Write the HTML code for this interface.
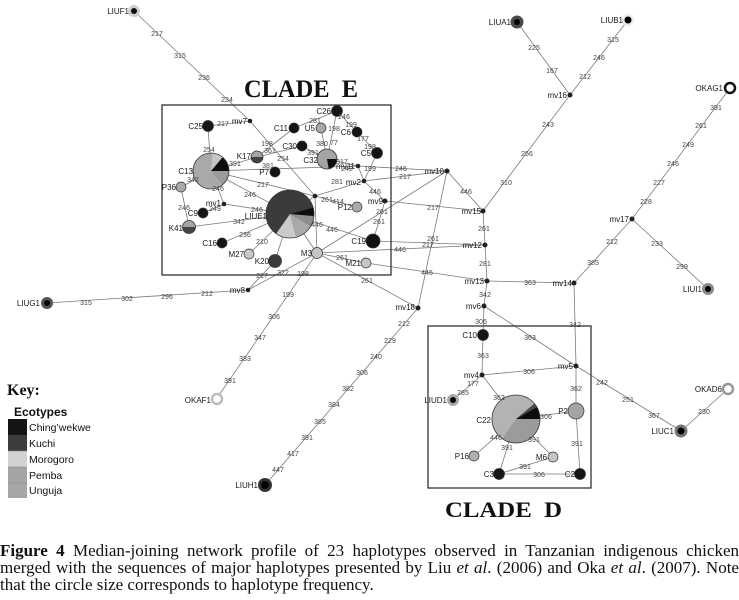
<!DOCTYPE html>
<html><head><meta charset="utf-8"><style>
html,body{margin:0;padding:0;background:#fff;}
#wrap{position:relative;width:739px;height:600px;overflow:hidden;background:#fff;}
svg{position:absolute;left:0;top:0;}
.cap{position:absolute;left:0;top:542px;width:739px;font-family:"Liberation Serif",serif;font-size:17px;line-height:17px;color:#111;}
.cap div{white-space:nowrap;}
.j{text-align:justify;text-align-last:justify;white-space:normal!important;}
</style></head><body><div id="wrap">
<svg width="739" height="600" viewBox="0 0 739 600" xmlns="http://www.w3.org/2000/svg">
<g stroke="#7a7a7a" stroke-width="0.8" fill="none">
<line x1="134" y1="11" x2="250" y2="121"/>
<line x1="250" y1="121" x2="208" y2="126"/>
<line x1="250" y1="121" x2="315" y2="196"/>
<line x1="208" y1="126" x2="211" y2="171"/>
<line x1="211" y1="171" x2="358" y2="166"/>
<line x1="211" y1="171" x2="257" y2="157"/>
<line x1="257" y1="157" x2="294" y2="128"/>
<line x1="257" y1="157" x2="302" y2="146"/>
<line x1="302" y1="146" x2="327" y2="159"/>
<line x1="294" y1="128" x2="337" y2="111"/>
<line x1="321" y1="128" x2="327" y2="159"/>
<line x1="337" y1="111" x2="327" y2="159"/>
<line x1="337" y1="111" x2="357" y2="132"/>
<line x1="357" y1="132" x2="377" y2="153"/>
<line x1="377" y1="153" x2="364" y2="181"/>
<line x1="327" y1="159" x2="358" y2="166"/>
<line x1="358" y1="166" x2="364" y2="181"/>
<line x1="358" y1="166" x2="447" y2="171"/>
<line x1="364" y1="181" x2="447" y2="171"/>
<line x1="364" y1="181" x2="385" y2="201"/>
<line x1="364" y1="181" x2="315" y2="196"/>
<line x1="315" y1="196" x2="357" y2="207"/>
<line x1="315" y1="196" x2="317" y2="253"/>
<line x1="315" y1="196" x2="290" y2="214"/>
<line x1="385" y1="201" x2="373" y2="241"/>
<line x1="385" y1="201" x2="483" y2="211"/>
<line x1="290" y1="214" x2="373" y2="241"/>
<line x1="211" y1="171" x2="315" y2="196"/>
<line x1="211" y1="171" x2="290" y2="214"/>
<line x1="211" y1="171" x2="224" y2="204"/>
<line x1="224" y1="204" x2="290" y2="214"/>
<line x1="203" y1="213" x2="224" y2="204"/>
<line x1="211" y1="171" x2="181" y2="187"/>
<line x1="181" y1="187" x2="189" y2="227"/>
<line x1="189" y1="227" x2="290" y2="214"/>
<line x1="222" y1="243" x2="290" y2="214"/>
<line x1="249" y1="254" x2="290" y2="214"/>
<line x1="275" y1="261" x2="290" y2="214"/>
<line x1="290" y1="214" x2="317" y2="253"/>
<line x1="317" y1="253" x2="447" y2="171"/>
<line x1="317" y1="253" x2="485" y2="245"/>
<line x1="317" y1="253" x2="366" y2="263"/>
<line x1="317" y1="253" x2="418" y2="308"/>
<line x1="317" y1="253" x2="217" y2="398"/>
<line x1="248" y1="290" x2="275" y2="261"/>
<line x1="248" y1="290" x2="317" y2="253"/>
<line x1="248" y1="290" x2="47" y2="303"/>
<line x1="373" y1="241" x2="485" y2="245"/>
<line x1="366" y1="263" x2="487" y2="281"/>
<line x1="447" y1="171" x2="418" y2="308"/>
<line x1="447" y1="171" x2="483" y2="211"/>
<line x1="418" y1="308" x2="265" y2="485"/>
<line x1="483" y1="211" x2="570" y2="95"/>
<line x1="570" y1="95" x2="517" y2="22"/>
<line x1="570" y1="95" x2="628" y2="20"/>
<line x1="730" y1="88" x2="632" y2="219"/>
<line x1="632" y1="219" x2="708" y2="289"/>
<line x1="632" y1="219" x2="574" y2="283"/>
<line x1="487" y1="281" x2="574" y2="283"/>
<line x1="483" y1="211" x2="485" y2="245"/>
<line x1="485" y1="245" x2="487" y2="281"/>
<line x1="487" y1="281" x2="484" y2="306"/>
<line x1="484" y1="306" x2="483" y2="335"/>
<line x1="484" y1="306" x2="576" y2="366"/>
<line x1="574" y1="283" x2="576" y2="366"/>
<line x1="576" y1="366" x2="681" y2="431"/>
<line x1="681" y1="431" x2="728" y2="389"/>
<line x1="483" y1="335" x2="482" y2="375"/>
<line x1="482" y1="375" x2="453" y2="400"/>
<line x1="482" y1="375" x2="576" y2="366"/>
<line x1="482" y1="375" x2="516" y2="419"/>
<line x1="576" y1="366" x2="576" y2="411"/>
<line x1="516" y1="419" x2="576" y2="411"/>
<line x1="576" y1="411" x2="580" y2="474"/>
<line x1="516" y1="419" x2="499" y2="474"/>
<line x1="516" y1="419" x2="553" y2="457"/>
<line x1="516" y1="419" x2="474" y2="456"/>
<line x1="499" y1="474" x2="553" y2="457"/>
<line x1="499" y1="474" x2="580" y2="474"/>
</g>
<rect x="162" y="105" width="229" height="170" fill="none" stroke="#333" stroke-width="1.3"/>
<rect x="428" y="326" width="163" height="162" fill="none" stroke="#333" stroke-width="1.3"/>
<text x="244" y="97" font-family="Liberation Serif, serif" font-weight="bold" font-size="25" fill="#111" textLength="114" lengthAdjust="spacingAndGlyphs" xml:space="preserve">CLADE  E</text>
<text x="445" y="517" font-family="Liberation Serif, serif" font-weight="bold" font-size="22" fill="#111" textLength="117" lengthAdjust="spacingAndGlyphs" xml:space="preserve">CLADE  D</text>
<g stroke="none">
<circle cx="290" cy="214" r="24" fill="#3b3b3b"/>
<path d="M290,214 L313.18,207.79 A24,24 0 0,1 313.91,216.09 Z" fill="#0d0d0d"/>
<path d="M290,214 L313.91,216.09 A24,24 0 0,1 310.78,226 Z" fill="#8e8e8e"/>
<path d="M290,214 L310.78,226 A24,24 0 0,1 296.21,237.18 Z" fill="#a9a9a9"/>
<path d="M290,214 L296.21,237.18 A24,24 0 0,1 276.23,233.66 Z" fill="#cacaca"/>
<circle cx="211" cy="171" r="18" fill="#a9a9a9"/>
<path d="M211,171 L212.57,153.07 A18,18 0 0,1 222.57,157.21 Z" fill="#c6c6c6"/>
<path d="M211,171 L222.57,157.21 A18,18 0 0,1 229,171 Z" fill="#0d0d0d"/>
<path d="M211,171 L229,171 A18,18 0 0,1 222.57,184.79 Z" fill="#9a9a9a"/>
<circle cx="327" cy="159" r="10" fill="#a4a4a4"/>
<path d="M327,159 L337,159 A10,10 0 0,1 328.74,168.85 Z" fill="#0d0d0d"/>
<circle cx="516" cy="419" r="24" fill="#b3b3b3"/>
<path d="M516,419 L540,419 A24,24 0 0,1 502.23,438.66 Z" fill="#9b9b9b"/>
<path d="M516,419 L534.38,403.57 A24,24 0 0,1 536.78,407 Z" fill="#4a4a4a"/>
<path d="M516,419 L536.78,407 A24,24 0 0,1 540,419 Z" fill="#0d0d0d"/>
<path d="M251,157 A6,6 0 0,1 263,157 Z" fill="#a5a5a5"/>
<path d="M263,157 A6,6 0 0,1 251,157 Z" fill="#444"/>
<path d="M182.5,227 A6.5,6.5 0 0,1 195.5,227 Z" fill="#a5a5a5"/>
<path d="M195.5,227 A6.5,6.5 0 0,1 182.5,227 Z" fill="#444"/>
</g>
<g fill="none" stroke="#333" stroke-width="0.8">
<circle cx="290" cy="214" r="24"/><circle cx="211" cy="171" r="18"/><circle cx="327" cy="159" r="10"/><circle cx="516" cy="419" r="24"/><circle cx="257" cy="157" r="6"/><circle cx="189" cy="227" r="6.5"/>
</g>
<g stroke="#333" stroke-width="0.7">
<circle cx="208" cy="126" r="5.5" fill="#151515"/>
<circle cx="294" cy="128" r="5" fill="#151515"/>
<circle cx="321" cy="128" r="5" fill="#a8a8a8"/>
<circle cx="337" cy="111" r="5.5" fill="#151515"/>
<circle cx="357" cy="132" r="5" fill="#151515"/>
<circle cx="302" cy="146" r="5" fill="#151515"/>
<circle cx="275" cy="172" r="5" fill="#151515"/>
<circle cx="377" cy="153" r="5.5" fill="#151515"/>
<circle cx="181" cy="187" r="5" fill="#aaa"/>
<circle cx="203" cy="213" r="5" fill="#151515"/>
<circle cx="357" cy="207" r="5" fill="#aaa"/>
<circle cx="373" cy="241" r="7" fill="#111"/>
<circle cx="222" cy="243" r="5" fill="#151515"/>
<circle cx="249" cy="254" r="5" fill="#c8c8c8"/>
<circle cx="275" cy="261" r="6.5" fill="#3a3a3a"/>
<circle cx="317" cy="253" r="5.5" fill="#c5c5c5"/>
<circle cx="366" cy="263" r="5" fill="#c5c5c5"/>
<circle cx="483" cy="335" r="5.5" fill="#151515"/>
<circle cx="576" cy="411" r="8" fill="#a5a5a5"/>
<circle cx="580" cy="474" r="5.5" fill="#151515"/>
<circle cx="499" cy="474" r="5.5" fill="#151515"/>
<circle cx="553" cy="457" r="5" fill="#c5c5c5"/>
<circle cx="474" cy="456" r="5" fill="#b0b0b0"/>
</g>
<g fill="#222">
<circle cx="250" cy="121" r="2.3"/><circle cx="315" cy="196" r="2.3"/><circle cx="358" cy="166" r="2.3"/><circle cx="364" cy="181" r="2.3"/><circle cx="224" cy="204" r="2.3"/><circle cx="385" cy="201" r="2.5"/>
<circle cx="447" cy="171" r="2.5"/><circle cx="483" cy="211" r="2.5"/><circle cx="485" cy="245" r="2.5"/><circle cx="487" cy="281" r="2.5"/><circle cx="574" cy="283" r="2.5"/><circle cx="632" cy="219" r="2.5"/><circle cx="570" cy="95" r="2.5"/><circle cx="484" cy="306" r="2.5"/><circle cx="418" cy="308" r="2.5"/><circle cx="248" cy="290" r="2.3"/><circle cx="482" cy="375" r="2.5"/><circle cx="576" cy="366" r="2.5"/>
</g>
<circle cx="134" cy="11" r="6" fill="#cfcfcf"/><circle cx="134" cy="11" r="3" fill="#111"/>
<circle cx="517" cy="22" r="6.5" fill="#4a4a4a"/><circle cx="517" cy="22" r="3" fill="#000"/>
<circle cx="628" cy="20" r="6" fill="#ececec"/><circle cx="628" cy="20" r="3.5" fill="#000"/>
<circle cx="730" cy="88" r="5" fill="#fff" stroke="#111" stroke-width="2.5"/>
<circle cx="708" cy="289" r="6" fill="#8a8a8a"/><circle cx="708" cy="289" r="3" fill="#000"/>
<circle cx="47" cy="303" r="6" fill="#555"/><circle cx="47" cy="303" r="3" fill="#000"/>
<circle cx="265" cy="485" r="7" fill="#333"/><circle cx="265" cy="485" r="4" fill="#000"/>
<circle cx="681" cy="431" r="6.5" fill="#777"/><circle cx="681" cy="431" r="3.5" fill="#000"/>
<circle cx="728" cy="389" r="5" fill="#fff" stroke="#999" stroke-width="2.5"/>
<circle cx="217" cy="399" r="5" fill="#fff" stroke="#bbb" stroke-width="2.5"/>
<circle cx="453" cy="400" r="6" fill="#aaa"/><circle cx="453" cy="400" r="3" fill="#000"/>
<g font-family="Liberation Sans, sans-serif" font-size="7" fill="#444" text-anchor="middle">
<text x="157" y="36">217</text><text x="180" y="58">315</text><text x="204" y="80">236</text><text x="227" y="102">234</text>
<text x="223" y="126">217</text><text x="283" y="161">254</text><text x="209" y="152">254</text>
<text x="235" y="166">391</text><text x="268" y="168">381</text><text x="270" y="153">361</text>
<text x="267" y="146">198</text><text x="313" y="155">391</text><text x="315" y="123">281</text>
<text x="322" y="146">380</text><text x="334" y="145">77</text><text x="334" y="131">198</text>
<text x="344" y="119">246</text><text x="351" y="127">199</text><text x="363" y="141">177</text><text x="370" y="149">198</text>
<text x="370" y="171">199</text><text x="342" y="164">317</text><text x="347" y="171">242</text>
<text x="401" y="171">246</text><text x="405" y="179">217</text><text x="375" y="194">446</text>
<text x="337" y="184">281</text><text x="327" y="202">261</text><text x="338" y="204">414</text>
<text x="382" y="214">261</text><text x="379" y="224">261</text><text x="433" y="210">217</text>
<text x="317" y="227">446</text><text x="332" y="232">446</text><text x="263" y="187">217</text>
<text x="250" y="197">246</text><text x="218" y="191">246</text><text x="257" y="212">246</text>
<text x="215" y="211">249</text><text x="193" y="182">342</text><text x="184" y="210">246</text>
<text x="239" y="224">342</text><text x="245" y="237">236</text><text x="262" y="244">210</text>
<text x="400" y="252">446</text><text x="342" y="260">261</text><text x="367" y="283">261</text>
<text x="303" y="276">198</text><text x="288" y="297">199</text><text x="274" y="319">306</text><text x="260" y="340">347</text><text x="245" y="361">383</text><text x="230" y="383">391</text>
<text x="262" y="278">217</text><text x="283" y="275">322</text>
<text x="207" y="296">212</text><text x="167" y="299">296</text><text x="127" y="301">302</text><text x="86" y="305">315</text>
<text x="428" y="247">217</text><text x="433" y="241">261</text><text x="427" y="275">446</text><text x="466" y="194">446</text>
<text x="404" y="326">212</text><text x="390" y="343">229</text><text x="376" y="359">240</text><text x="362" y="375">306</text><text x="348" y="391">382</text><text x="334" y="407">384</text><text x="320" y="424">385</text><text x="307" y="440">391</text><text x="293" y="456">417</text><text x="278" y="472">447</text>
<text x="506" y="185">310</text><text x="527" y="156">256</text><text x="548" y="127">243</text>
<text x="552" y="73">167</text><text x="534" y="50">225</text>
<text x="585" y="79">212</text><text x="599" y="60">246</text><text x="613" y="42">315</text>
<text x="716" y="110">391</text><text x="701" y="128">261</text><text x="688" y="147">249</text><text x="673" y="166">246</text><text x="659" y="185">227</text><text x="646" y="204">228</text>
<text x="657" y="246">233</text><text x="682" y="269">299</text>
<text x="612" y="244">212</text><text x="593" y="265">385</text>
<text x="530" y="285">363</text><text x="484" y="231">261</text><text x="485" y="266">281</text><text x="485" y="297">342</text>
<text x="481" y="324">306</text><text x="530" y="340">363</text><text x="575" y="327">342</text>
<text x="602" y="385">242</text><text x="628" y="402">251</text><text x="654" y="418">367</text><text x="704" y="414">230</text>
<text x="483" y="358">363</text><text x="473" y="386">177</text><text x="463" y="395">285</text><text x="529" y="374">306</text>
<text x="499" y="400">362</text><text x="576" y="391">362</text><text x="546" y="419">306</text><text x="577" y="446">391</text>
<text x="539" y="477">306</text><text x="525" y="469">391</text><text x="534" y="442">391</text><text x="507" y="450">391</text><text x="496" y="440">446</text>
</g>
<g font-family="Liberation Sans, sans-serif" font-size="8" fill="#1a1a1a" text-anchor="end">
<text x="129" y="14">LIUF1</text><text x="247" y="124">mv7</text><text x="203" y="129">C25</text>
<text x="288" y="131">C11</text><text x="315" y="131">U5</text><text x="331" y="114">C26</text><text x="351" y="135">C6</text>
<text x="297" y="149">C30</text><text x="193" y="174">C13</text><text x="251" y="159">K17</text><text x="318" y="163">C32</text>
<text x="269" y="175">P7</text><text x="371" y="156">C5</text><text x="355" y="169">mv11</text><text x="361" y="185">mv2</text>
<text x="176" y="190">P36</text><text x="221" y="206">mv1</text><text x="198" y="216">C9</text><text x="267" y="219">LIUE1</text>
<text x="383" y="204">mv9</text><text x="352" y="210">P12</text><text x="183" y="231">K41</text><text x="366" y="244">C19</text>
<text x="217" y="246">C16</text><text x="244" y="257">M27</text><text x="269" y="264">K20</text><text x="312" y="256">M3</text>
<text x="361" y="266">M21</text>
<text x="444" y="174">mv10</text><text x="481" y="214">mv15</text><text x="482" y="248">mv12</text><text x="484" y="284">mv13</text>
<text x="572" y="286">mv14</text><text x="629" y="222">mv17</text><text x="567" y="98">mv16</text><text x="511" y="25">LIUA1</text>
<text x="623" y="23">LIUB1</text><text x="723" y="91">OKAG1</text><text x="702" y="292">LIUI1</text><text x="481" y="309">mv6</text>
<text x="415" y="310">mv18</text><text x="245" y="293">mv8</text><text x="40" y="306">LIUG1</text><text x="211" y="403">OKAF1</text>
<text x="258" y="488">LIUH1</text><text x="674" y="434">LIUC1</text><text x="722" y="392">OKAD6</text>
<text x="477" y="338">C10</text><text x="479" y="378">mv4</text><text x="447" y="403">LIUD1</text><text x="491" y="423">C22</text>
<text x="568" y="414">P2</text><text x="573" y="369">mv5</text><text x="469" y="459">P16</text><text x="547" y="460">M6</text>
<text x="494" y="477">C3</text><text x="575" y="477">C2</text>
</g>
<text x="7" y="395" font-family="Liberation Serif, serif" font-weight="bold" font-size="16" fill="#111">Key:</text>
<text x="14" y="416" font-family="Liberation Sans, sans-serif" font-weight="bold" font-size="12" fill="#111">Ecotypes</text>
<rect x="8" y="419" width="19" height="16" fill="#151515"/>
<rect x="8" y="435" width="19" height="16" fill="#3c3c3c"/>
<rect x="8" y="451" width="19" height="16" fill="#d2d2d2"/>
<rect x="8" y="467" width="19" height="16" fill="#a4a4a4"/>
<rect x="8" y="483" width="19" height="15" fill="#a6a6a6"/>
<g stroke="#888" stroke-width="0.5"><line x1="8" y1="451" x2="27" y2="451"/><line x1="8" y1="467" x2="27" y2="467"/><line x1="8" y1="483" x2="27" y2="483"/></g>
<g font-family="Liberation Sans, sans-serif" font-size="10.5" fill="#111">
<text x="29" y="431">Ching’wekwe</text><text x="29" y="447">Kuchi</text><text x="29" y="463">Morogoro</text><text x="29" y="479">Pemba</text><text x="29" y="494">Unguja</text>
</g>
</svg>
<div class="cap">
<div class="j"><b>Figure 4</b> Median-joining network profile of 23 haplotypes observed in Tanzanian indigenous chicken</div>
<div class="j">merged with the sequences of major haplotypes presented by Liu <i>et al</i>. (2006) and Oka <i>et al</i>. (2007). Note</div>
<div>that the circle size corresponds to haplotype frequency.</div>
</div>
</div></body></html>
